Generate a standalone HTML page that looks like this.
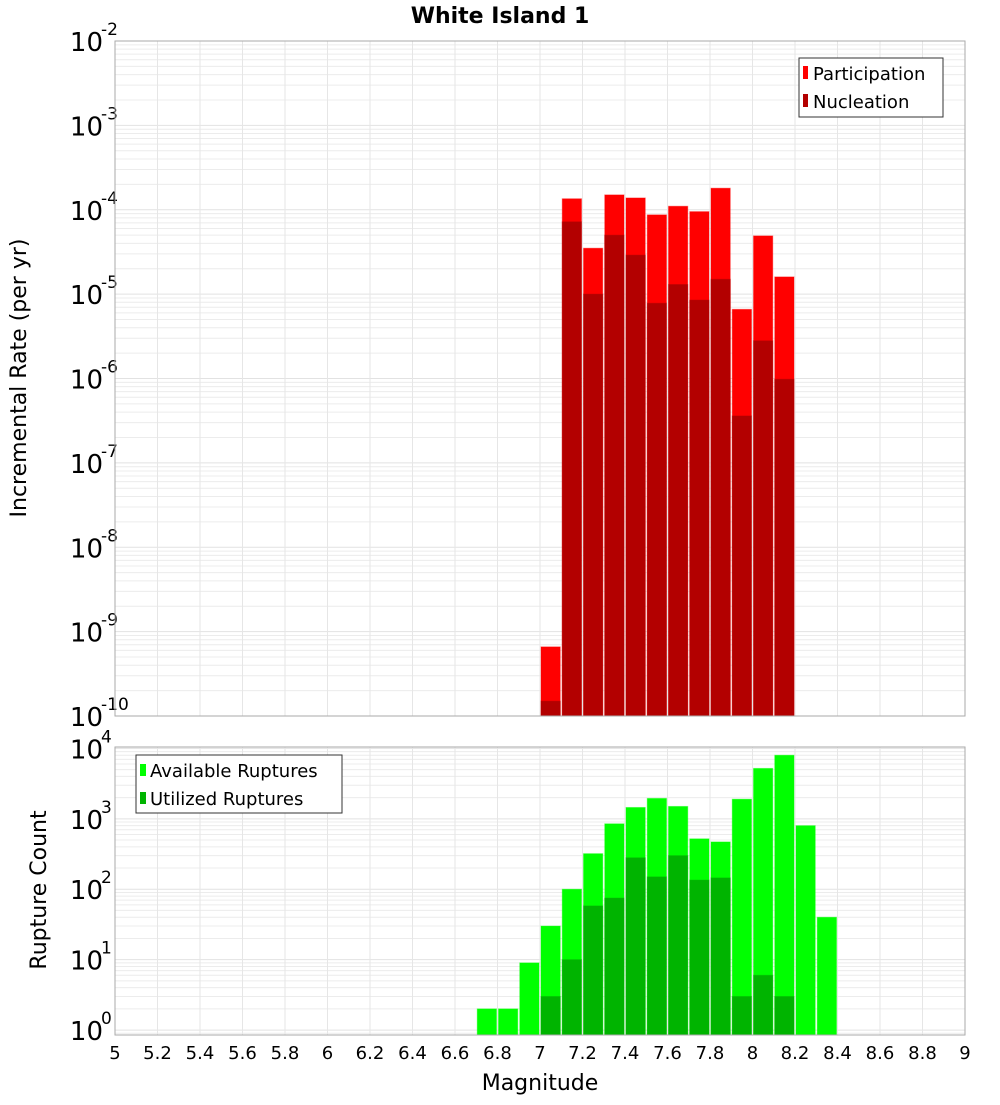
<!DOCTYPE html>
<html><head><meta charset="utf-8"><style>
body{margin:0;background:#fff;}
svg text{font-family:"DejaVu Sans","Liberation Sans",sans-serif;}
</style></head><body>
<svg id="c" width="1000" height="1100" xmlns="http://www.w3.org/2000/svg">
<text x="500" y="23" text-anchor="middle" font-size="22" font-weight="bold">White Island 1</text>
<text transform="translate(26,378) rotate(-90)" text-anchor="middle" font-size="22">Incremental Rate (per yr)</text>
<text transform="translate(46,890) rotate(-90)" text-anchor="middle" font-size="22">Rupture Count</text>
<text x="540" y="1090" text-anchor="middle" font-size="22">Magnitude</text>
<g id="top"></g><g id="bot"></g><g id="xt"></g>
<g>
<rect x="799" y="58" width="144" height="59" fill="#fff" stroke="#333"/>
<rect x="803" y="66" width="5" height="13" fill="#ff0000"/>
<text x="813" y="80" font-size="18">Participation</text>
<rect x="803" y="94" width="5" height="13" fill="#b30000"/>
<text x="813" y="108" font-size="18">Nucleation</text>
</g>
<g>
<rect x="136" y="755" width="206" height="58" fill="#fff" stroke="#333"/>
<rect x="140" y="764" width="6" height="12" fill="#00ff00"/>
<text x="150" y="777" font-size="18">Available Ruptures</text>
<rect x="140" y="792" width="6" height="12" fill="#00b400"/>
<text x="150" y="805" font-size="18">Utilized Ruptures</text>
</g>
</svg>
<script>
const mags=[7.0,7.1,7.2,7.3,7.4,7.5,7.6,7.7,7.8,7.9,8.0,8.1];
const participation=[6.6e-10,1.35e-4,3.5e-5,1.5e-4,1.38e-4,8.7e-5,1.1e-4,9.5e-5,1.8e-4,6.6e-6,4.9e-5,1.6e-5];
const nucleation=[1.5e-10,7.2e-5,1.0e-5,5e-5,2.9e-5,7.8e-6,1.3e-5,8.5e-6,1.5e-5,3.6e-7,2.8e-6,9.8e-7];
const countMags=[6.7,6.8,6.9,7.0,7.1,7.2,7.3,7.4,7.5,7.6,7.7,7.8,7.9,8.0,8.1,8.2,8.3];
const available=[2,2,9,30,100,320,850,1450,1950,1500,520,470,1900,5200,8000,800,40];
const utilized=[0,0,0,3,10,58,75,280,150,300,135,145,3,6,3,0,0];
const xTicks=[5,5.2,5.4,5.6,5.8,6,6.2,6.4,6.6,6.8,7,7.2,7.4,7.6,7.8,8,8.2,8.4,8.6,8.8,9];
const NS="http://www.w3.org/2000/svg";
const L=115,R=965;
const X=m=>L+(m-5)/4*(R-L);
function mk(t,a,p){const e=document.createElementNS(NS,t);for(const k in a)e.setAttribute(k,a[k]);p.appendChild(e);return e;}
function panel(g,top,bot,lmin,lmax,name){
  const Y=v=>bot-(Math.log10(v)-lmin)/(lmax-lmin)*(bot-top);
  mk('rect',{x:L,y:top,width:R-L,height:bot-top,fill:'#fff'},g);
  for(let d=Math.floor(lmin);d<=Math.ceil(lmax);d++){for(let k=1;k<10;k++){const lv=d+Math.log10(k);if(lv<lmin-1e-9||lv>lmax+1e-9)continue;
    const ln=mk('line',{x1:L,x2:R,y1:Y(Math.pow(10,lv)),y2:Y(Math.pow(10,lv)),stroke:k==1?'#e2e2e2':'#ececec','stroke-width':1},g);
    }}
  xTicks.forEach(t=>{const ln=mk('line',{x1:X(t),x2:X(t),y1:top,y2:bot,stroke:'#e6e6e6'},g);
    });
  for(let d=Math.ceil(lmin-1e-9);d<=Math.floor(lmax+1e-9);d++){const y=Y(Math.pow(10,d));
    const t=mk('text',{x:103,y:y+10,'text-anchor':'end','font-size':26},g);t.textContent='10';
    
    const s=mk('text',{x:101,y:y-6,'font-size':17},g);s.textContent=String(d).replace('-','-');
    }
  return Y;
}
function bars(g,Y,bot,ms,vals,color,name){
  ms.forEach((m,i)=>{const v=vals[i];if(!(v>0))return;const y=Math.max(Y(v),0);
    const r=mk('rect',{x:X(m)+1,y:y,width:X(m+0.1)-X(m)-2,height:bot-y,fill:color,stroke:color,'stroke-opacity':0.4,'stroke-width':1},g);
    });
}
const gt=document.getElementById('top'),gb=document.getElementById('bot'),gx=document.getElementById('xt');
const Yt=panel(gt,41,716,-10,-2,'top');
bars(gt,Yt,716,mags,participation,'#ff0000','participation-bar');
bars(gt,Yt,716,mags,nucleation,'#b30000','nucleation-bar');
mk('rect',{x:L,y:41,width:R-L,height:675,fill:'none',stroke:'#aaa'},gt);
const Yb=panel(gb,747,1035,-0.07,4.02,'bottom');
bars(gb,Yb,1035,countMags,available,'#00ff00','available-bar');
bars(gb,Yb,1035,countMags,utilized,'#00b400','utilized-bar');
mk('rect',{x:L,y:747,width:R-L,height:288,fill:'none',stroke:'#aaa'},gb);
xTicks.forEach(t=>{const e=mk('text',{x:X(t),y:1059,'text-anchor':'middle','font-size':18},gx);
  e.textContent=String(Math.round(t*10)/10);
  });
</script>
</body></html>
